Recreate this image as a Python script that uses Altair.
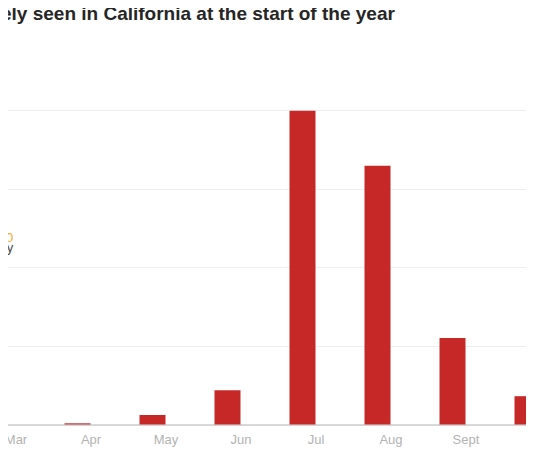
import altair as alt
import pandas as pd

months = ["Mar", "Apr", "May", "Jun", "Jul", "Aug", "Sept", "Oct"]
counts = [0, 15, 120, 435, 3990, 3290, 1100, 360]
y_ticks = [0, 1000, 2000, 3000, 4000]
note_value = ["1,000"]
note_label = ["in January"]

df = pd.DataFrame({"month": months, "count": counts})

bars = alt.Chart(df).mark_bar(color="#c62828").encode(
    x=alt.X(
        "month:N",
        sort=months,
        scale=alt.Scale(paddingInner=0.6533, paddingOuter=0.3267),
        axis=alt.Axis(
            title=None, labelAngle=0, labelOffset=13.5, labelColor="#b3b3b3",
            labelFontSize=13, labelFont="Liberation Sans", ticks=False,
            domainColor="#cccccc", domainWidth=1.5, labelPadding=9, grid=False,
        ),
    ),
    y=alt.Y(
        "count:Q",
        scale=alt.Scale(domain=[0, 4000]),
        axis=alt.Axis(
            title=None, labels=False, ticks=False, domain=False,
            values=y_ticks, gridColor="#eeeeee", gridWidth=1,
        ),
    ),
)

ann1 = alt.Chart(pd.DataFrame({"t": note_value})).mark_text(
    align="right", baseline="alphabetic", fontSize=13, font="Liberation Sans", color="#f5a623"
).encode(x=alt.value(48.3), y=alt.value(131.5), text="t:N")

ann2 = alt.Chart(pd.DataFrame({"t": note_label})).mark_text(
    align="right", baseline="alphabetic", fontSize=13, font="Liberation Sans", color="#444444"
).encode(x=alt.value(48.3), y=alt.value(141.5), text="t:N")

chart = alt.layer(bars, ann1, ann2).properties(
    width=600,
    height=314.5,
    title=alt.TitleParams(
        "Rarely seen in California at the start of the year",
        anchor="start", dx=16, offset=86, fontSize=19,
        font="Liberation Sans", fontWeight="bold", color="#262626",
    ),
    padding={"left": -43, "top": 102, "right": -39, "bottom": 25},
    autosize=alt.AutoSizeParams(type="none"),
).configure_view(stroke=None)

chart.save("out.html", embed_options={"renderer": "svg", "actions": False})
